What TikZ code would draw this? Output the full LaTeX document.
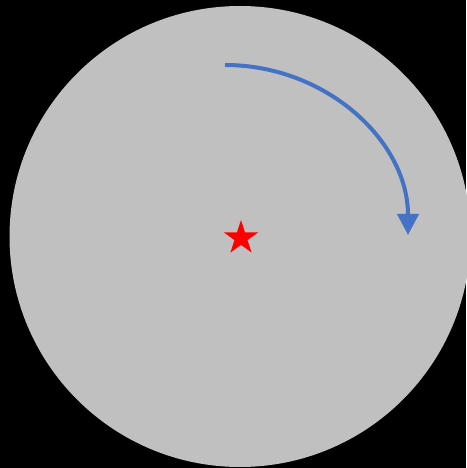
\documentclass[tikz,border=0pt]{standalone}
\usetikzlibrary{shapes.geometric,arrows.meta}
\definecolor{disk}{HTML}{C0C0C0}
\definecolor{arrowblue}{HTML}{4472C4}
\begin{document}
\begin{tikzpicture}[x=1pt,y=1pt,
  turn/.style={draw=arrowblue,line width=4pt,-{Triangle[length=21pt,width=21pt]}},
  centerstar/.style={star,star points=5,star point ratio=2.618,fill=red,draw=none,minimum size=36pt,inner sep=0pt}]
  \fill[black] (0,0) rectangle (466,468);
  \useasboundingbox (0,0) rectangle (466,468);
  \fill[disk] (240,231.5) circle (230.5);
  \node[centerstar] (s) at (241,230) {};
  \coordinate (a0) at (225,403);
  \draw[turn] (a0) arc[start angle=90,end angle=0,x radius=183,y radius=170];
\end{tikzpicture}
\end{document}
